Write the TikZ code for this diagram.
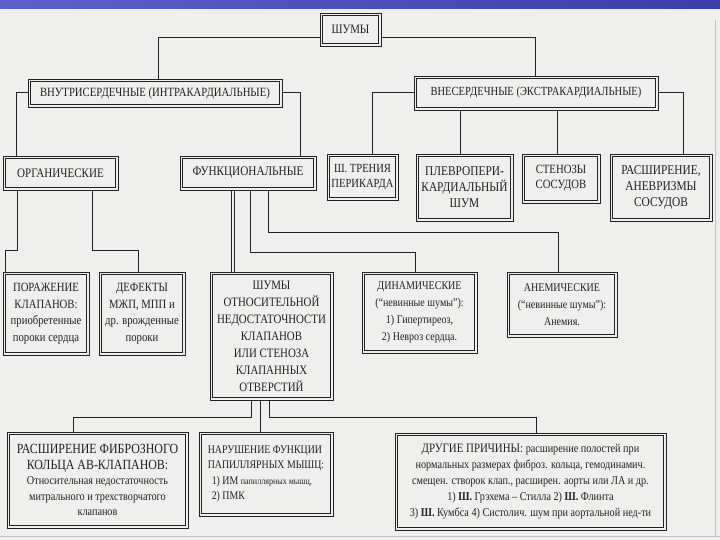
\documentclass[tikz,border=0pt]{standalone}
\usepackage{fontspec}
\setmainfont{Liberation Serif}[FakeStretch=0.85]
\definecolor{bg}{HTML}{EFEFED}
\definecolor{ink}{HTML}{222222}
\definecolor{hdrA}{HTML}{6060CC}
\definecolor{hdrB}{HTML}{3C3CAA}
\definecolor{rim}{HTML}{C4C4C4}
\newcommand{\fsz}[2]{\fontsize{#1}{#2}\selectfont}
\tikzset{
  box/.style={draw=ink, line width=0.7pt, fill=bg, align=center, inner sep=1pt, text=ink,
    path picture={\draw[ink, line width=0.9pt] ([shift={(2.2pt,-2.2pt)}]path picture bounding box.north west) rectangle ([shift={(-2.2pt,2.2pt)}]path picture bounding box.south east);}},
  wire/.style={draw=ink, line width=1pt},
}
\begin{document}
\begin{tikzpicture}[x=1pt,y=-1pt]
\useasboundingbox (0,0) rectangle (720,540);
\fill[bg] (0,0) rectangle (720,540);
\shade[left color=hdrA,right color=hdrB] (0,0) rectangle (720,9);
\fill[hdrA!12!white] (0,9) rectangle (720,11.5);
\draw[rim, line width=1.5pt] (0,536.5) -- (720,536.5);
\draw[rim, line width=1pt] (715,20) -- (715,536);

% level 0
\node[box, minimum width=61pt, minimum height=33pt, font=\fsz{12.8}{15}] (shumy) at (350.5,29.5) {ШУМЫ};
% level 1
\node[box, minimum width=254pt, minimum height=28pt, font=\fsz{12.6}{15}] (intra) at (155,93) {ВНУТРИСЕРДЕЧНЫЕ (ИНТРАКАРДИАЛЬНЫЕ)};
\node[box, minimum width=244pt, minimum height=34pt, font=\fsz{12.4}{15}] (extra) at (536,93) {ВНЕСЕРДЕЧНЫЕ (ЭКСТРАКАРДИАЛЬНЫЕ)};
% level 2
\node[box, minimum width=115pt, minimum height=34pt, font=\fsz{13}{15}] (organ) at (60.5,173) {ОРГАНИЧЕСКИЕ};
\node[box, minimum width=136pt, minimum height=34pt, font=\fsz{13.2}{15}] (func) at (248,173) {ФУНКЦИОНАЛЬНЫЕ};
\node[box, minimum width=71pt, minimum height=46pt, font=\fsz{12.4}{15}] (trenie) at (362.5,177) {Ш. ТРЕНИЯ\\ПЕРИКАРДА};
\node[box, minimum width=97pt, minimum height=67pt, font=\fsz{13.4}{16}] (pleuro) at (464.5,187.5) {ПЛЕВРОПЕРИ-\\КАРДИАЛЬНЫЙ\\ШУМ};
\node[box, minimum width=78pt, minimum height=49pt, font=\fsz{12.6}{15}] (stenos) at (561,178.5) {СТЕНОЗЫ\\СОСУДОВ};
\node[box, minimum width=102pt, minimum height=67pt, font=\fsz{13.4}{16}] (rassh) at (661,187.5) {РАСШИРЕНИЕ,\\АНЕВРИЗМЫ\\СОСУДОВ};
% level 3
\node[box, minimum width=86pt, minimum height=83pt, font=\fsz{12.6}{16.5}] (porazh) at (46,313.5) {ПОРАЖЕНИЕ\\КЛАПАНОВ:\\приобретенные\\пороки сердца};
\node[box, minimum width=86pt, minimum height=83pt, font=\fsz{12.6}{16.5}] (defekty) at (142,313.5) {ДЕФЕКТЫ\\МЖП, МПП и\\др. врожденные\\пороки};
\node[box, minimum width=123pt, minimum height=128pt, font=\fsz{12.8}{17}] (otnosit) at (271.5,336) {ШУМЫ\\ОТНОСИТЕЛЬНОЙ\\НЕДОСТАТОЧНОСТИ\\КЛАПАНОВ\\ИЛИ СТЕНОЗА\\КЛАПАННЫХ\\ОТВЕРСТИЙ};
\node[box, minimum width=115pt, minimum height=81pt, font=\fsz{11.8}{17}] (dinam) at (419.5,312.5) {ДИНАМИЧЕСКИЕ\\(“невинные шумы”):\\1) Гипертиреоз,\\2) Невроз сердца.};
\node[box, minimum width=110pt, minimum height=65pt, font=\fsz{11.8}{17}] (anem) at (562,304.5) {АНЕМИЧЕСКИЕ\\(“невинные шумы”):\\Анемия.};
% level 4
\node[box, minimum width=181pt, minimum height=96pt, font=\fsz{12}{15.5}] (fibr) at (97.5,480) {{\fsz{14}{15.5}РАСШИРЕНИЕ ФИБРОЗНОГО}\\{\fsz{14}{15.5}КОЛЬЦА АВ-КЛАПАНОВ:}\\Относительная недостаточность\\митрального и трехстворчатого\\клапанов};
\node[box, minimum width=134pt, minimum height=84pt, align=left, font=\fsz{11.6}{15.5}] (papil) at (266,474) {НАРУШЕНИЕ ФУНКЦИИ\\ПАПИЛЛЯРНЫХ МЫШЦ:\\\hspace*{4pt}1) ИМ {\fsz{9.5}{15.5}папиллярных мышц,}\\\hspace*{4pt}2) ПМК};
\node[box, minimum width=271pt, minimum height=97pt, font=\fsz{12}{16}] (drugie) at (530.5,481.5) {{\fsz{12.8}{16}ДРУГИЕ ПРИЧИНЫ:} расширение полостей при\\нормальных размерах фиброз. кольца, гемодинамич.\\смещен. створок клап., расширен. аорты или ЛА и др.\\1) \textbf{Ш.} Грэхема – Стилла 2) \textbf{Ш.} Флинта\\3) \textbf{Ш.} Кумбса 4) Систолич. шум при аортальной нед-ти};

% connectors
\draw[wire] ([yshift=-8.5pt]shumy.west) -| ([xshift=3pt]intra.north);
\draw[wire] ([yshift=-8.5pt]shumy.east) -| ([xshift=-1pt]extra.north);
\draw[wire] (intra.west) -| ([xshift=-44.5pt]organ.north);
\draw[wire] (intra.east) -| ([xshift=52pt]func.north);
\draw[wire] (extra.west) -| ([xshift=9.5pt]trenie.north);
\draw[wire] ([xshift=-4.5pt]pleuro.north) -- ([xshift=-4.5pt]pleuro.north |- extra.south);
\draw[wire] ([xshift=-4pt]stenos.north) -- ([xshift=-4pt]stenos.north |- extra.south);
\draw[wire] (extra.east) -| ([xshift=22pt]rassh.north);
\draw[wire] ([xshift=-43.5pt]organ.south) -- ++(0,60) -| ([xshift=-41pt]porazh.north);
\draw[wire] ([xshift=31.5pt]organ.south) -- ++(0,60) -| ([xshift=-4pt]defekty.north);
\draw[wire, line width=0.7pt] ([xshift=-16.3pt]func.south) -- ([xshift=-16.3pt]func.south |- otnosit.north);
\draw[wire, line width=0.7pt] ([xshift=-13.7pt]func.south) -- ([xshift=-13.7pt]func.south |- otnosit.north);
\draw[wire] ([xshift=2pt]func.south) -- ++(0,62) -| ([xshift=-4.5pt]dinam.north);
\draw[wire] ([xshift=20pt]func.south) -- ++(0,42) -| ([xshift=-4pt]anem.north);
\draw[wire] ([xshift=-20.5pt]otnosit.south) -- ++(0,17) -| ([xshift=-24.5pt]fibr.north);
\draw[wire] ([xshift=-11.5pt]otnosit.south) -- ([xshift=-11.5pt]otnosit.south |- papil.north);
\draw[wire] ([xshift=-2.5pt]otnosit.south) -- ++(0,17) -| ([xshift=5.5pt]drugie.north);
\end{tikzpicture}
\end{document}
